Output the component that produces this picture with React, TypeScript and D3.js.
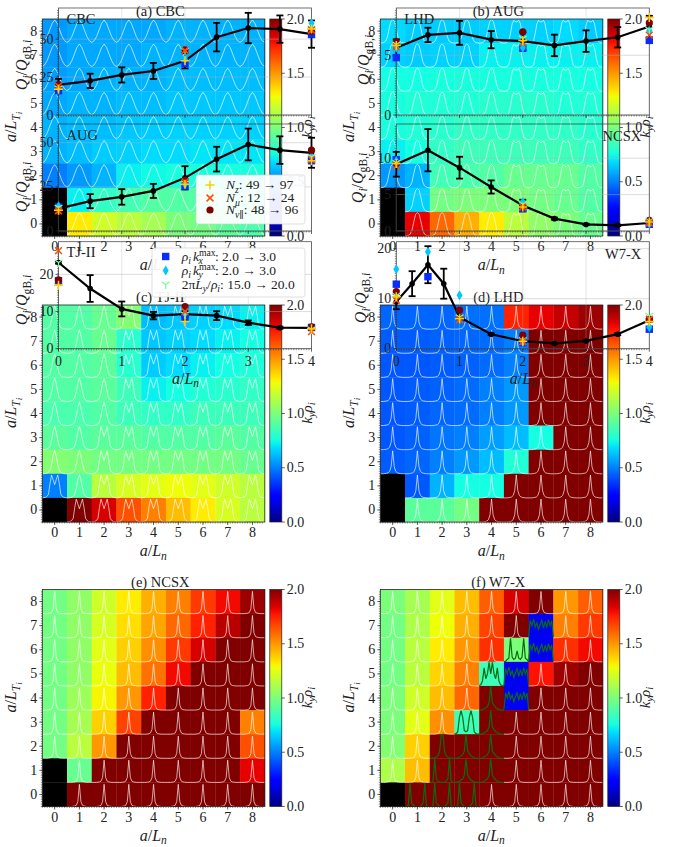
import * as d3 from "d3";

const serif = "'Liberation Serif', 'DejaVu Serif', serif";

const cellLabels = [0, 1, 2, 3, 4, 5, 6, 7, 8];
const cbarTicks = [0, 0.5, 1, 1.5, 2];
const fluxX = [0, 0.5, 1, 1.5, 2, 2.5, 3, 3.5, 4];
const fluxXW7 = [0, 0.25, 0.5, 0.75, 1, 1.5, 2, 2.5, 3, 3.5, 4];
const fluxXTicks = [0, 1, 2, 3, 4];

// heat maps, rows from a/LTi = 8 down to 0, null = no data
const heatCBC = [
  [0.55, 0.58, 0.58, 0.58, 0.58, 0.6, 0.6, 0.6, 0.6],
  [0.55, 0.58, 0.58, 0.58, 0.6, 0.6, 0.6, 0.6, 0.6],
  [0.56, 0.58, 0.6, 0.6, 0.6, 0.62, 0.62, 0.62, 0.62],
  [0.58, 0.6, 0.6, 0.62, 0.62, 0.64, 0.64, 0.64, 0.64],
  [0.6, 0.62, 0.62, 0.64, 0.65, 0.66, 0.66, 0.66, 0.66],
  [0.6, 0.62, 0.65, 0.66, 0.68, 0.68, 0.7, 0.7, 0.7],
  [0.5, 0.55, 0.6, 0.72, 0.74, 0.76, 0.76, 0.76, 0.76],
  [null, 0.72, 0.82, 0.86, 0.9, 0.9, 0.9, 0.9, 0.85],
  [null, 1.32, 1.2, 1.15, 1.1, 1.0, 0.98, 0.92, 0.88],
];
const heatAUG = [
  [0.68, 0.65, 0.65, 0.65, 0.66, 0.66, 0.66, 0.68, 0.65],
  [0.66, 0.65, 0.66, 0.66, 0.72, 0.72, 0.72, 0.72, 0.72],
  [0.75, 0.75, 0.76, 0.76, 0.76, 0.76, 0.76, 0.76, 0.75],
  [0.76, 0.78, 0.78, 0.78, 0.8, 0.8, 0.8, 0.78, 0.78],
  [0.76, 0.78, 0.8, 0.82, 0.82, 0.82, 0.82, 0.82, 0.8],
  [0.72, 0.75, 0.82, 0.85, 0.85, 0.85, 0.85, 0.85, 0.82],
  [0.55, 0.6, 0.86, 0.88, 0.9, 0.95, 0.95, 0.95, 0.9],
  [null, 0.66, 0.98, 1.0, 1.0, 1.0, 0.98, 0.95, 0.9],
  [null, 1.82, 1.6, 1.45, 1.32, 1.15, 1.05, 1.0, 0.95],
];
const heatTJ = [
  [0.9, 0.9, 0.95, 1.02, 0.62, 0.64, 0.66, 0.68, 0.72],
  [0.9, 0.9, 0.95, 0.8, 0.64, 0.66, 0.68, 0.72, 0.75],
  [0.9, 0.9, 0.92, 0.8, 0.65, 0.68, 0.72, 0.75, 0.78],
  [0.9, 0.9, 0.92, 0.85, 0.72, 0.75, 0.78, 0.8, 0.82],
  [0.88, 0.88, 0.9, 0.85, 0.82, 0.82, 0.85, 0.85, 0.85],
  [0.92, 0.9, 0.92, 0.92, 0.9, 0.9, 0.9, 0.92, 0.9],
  [1.02, 1.0, 0.98, 0.98, 0.98, 0.98, 0.98, 0.98, 0.95],
  [0.5, 0.9, 1.15, 1.22, 1.25, 1.28, 1.25, 1.2, 1.15],
  [null, 2.0, 1.85, 1.65, 1.55, 1.42, 1.32, 1.22, 1.15],
];
const heatLHD = [
  [0.45, 0.45, 0.45, 0.47, 0.47, 1.75, 1.82, 1.88, 1.95],
  [0.43, 0.43, 0.44, 0.45, 0.46, 0.5, 2, 2, 2],
  [0.42, 0.42, 0.43, 0.44, 0.46, 0.5, 2, 2, 2],
  [0.42, 0.43, 0.44, 0.46, 0.5, 0.55, 2, 2, 2],
  [0.42, 0.43, 0.45, 0.46, 0.5, 0.55, 2, 2, 2],
  [0.42, 0.44, 0.48, 0.5, 0.56, 0.62, 0.75, 2, 2],
  [0.43, 0.45, 0.5, 0.55, 0.62, 0.78, 2, 2, 2],
  [null, 0.42, 0.6, 0.75, 0.75, 2, 2, 2, 2],
  [null, 0.92, 0.92, 0.98, 2, 2, 2, 2, 2],
];
const heatNCSX = [
  [0.98, 1.05, 1.2, 1.32, 1.45, 1.55, 1.7, 1.8, 1.95],
  [0.98, 1.05, 1.22, 1.35, 1.47, 1.6, 1.75, 1.9, 2.0],
  [0.98, 1.05, 1.25, 1.38, 1.52, 1.7, 1.85, 2, 2],
  [0.98, 1.05, 1.27, 1.42, 1.58, 1.8, 2, 2, 2],
  [0.98, 1.08, 1.3, 1.5, 1.75, 2, 2, 2, 2],
  [0.98, 1.1, 1.38, 1.68, 2, 2, 2, 2, 1.55],
  [0.98, 1.15, 1.5, 2, 2, 2, 2, 2, 1.65],
  [null, 0.95, 2, 2, 2, 2, 2, 2, 1.82],
  [null, 2, 2, 2, 2, 2, 2, 2, 2],
];
const heatW7X = [
  [1.0, 1.1, 1.25, 1.42, 1.62, 1.85, 2, 1.5, 1.62],
  [0.98, 1.12, 1.28, 1.45, 1.68, 2, 0.2, 1.55, 1.7],
  [0.98, 1.15, 1.32, 1.5, 1.72, 1.0, 0.2, 1.72, 1.8],
  [0.98, 1.15, 1.37, 1.55, 0.85, 0.2, 1.78, 1.95, 2],
  [1.0, 1.2, 1.42, 1.6, 2, 0.2, 2, 2, 2],
  [1.0, 1.25, 1.52, 0.85, 2, 2, 2, 2, 2],
  [1.02, 1.38, 2, 2, 2, 2, 2, 2, 2],
  [1.12, 1.42, 2, 2, 2, 2, 2, 2, 2],
  [null, 2, 2, 2, 2, 2, 2, 2, 2],
];

// mode shapes drawn inside the cells, height as fraction of a cell
const shapeSine = [0.03, 0.1, 0.28, 0.55, 0.82, 0.96, 0.82, 0.55, 0.28, 0.1, 0.03];
const shapeBell = [0, 0.01, 0.03, 0.08, 0.25, 0.6, 0.9, 0.97, 0.9, 0.6, 0.25, 0.08, 0.03, 0.01, 0];
const shapeBellFlat = [0, 0.01, 0.03, 0.1, 0.4, 0.8, 0.95, 0.88, 0.88, 0.95, 0.8, 0.4, 0.1, 0.03, 0.01, 0];
const shapePeak = [0, 0, 0.01, 0.03, 0.06, 0.15, 0.4, 0.75, 0.97, 0.75, 0.4, 0.15, 0.06, 0.03, 0.01, 0, 0];
const shapeTwin = [0, 0.01, 0.02, 0.06, 0.15, 0.6, 0.95, 0.75, 0.55, 0.75, 0.95, 0.6, 0.15, 0.06, 0.02, 0.01, 0];
const shapeSpike = [0, 0, 0, 0.01, 0.02, 0.04, 0.1, 0.3, 0.95, 0.3, 0.1, 0.04, 0.02, 0.01, 0, 0, 0];
const shapeNarrow = [0, 0, 0, 0, 0.01, 0.02, 0.05, 0.2, 0.92, 0.2, 0.05, 0.02, 0.01, 0, 0, 0, 0];

const greenWavy = [0.02, 0.72, 0.5, 0.78, 0.45, 0.62, 0.35, 0.55, 0.72, 0.4, 0.68, 0.42, 0.75, 0.5, 0.7, 0.02];
const greenEdges = [0, 0, 0.05, 0.98, 0.15, 0.06, 0.01, 0, 0, 0.01, 0.06, 0.15, 0.98, 0.05, 0, 0];
const greenCentre = [0, 0, 0.01, 0.02, 0.05, 0.1, 0.3, 0.98, 1, 0.3, 0.1, 0.05, 0.02, 0.01, 0, 0];
const greenComb = [0, 0.02, 0.1, 0.15, 0.98, 0.2, 0.1, 0.15, 0.45, 0.15, 0.1, 0.2, 0.98, 0.15, 0.1, 0];
const greenTwinThick = [0, 0.02, 0.1, 0.7, 0.98, 0.7, 0.15, 0.1, 0.15, 0.7, 0.98, 0.7, 0.1, 0.02, 0, 0];
const greenTriple = [0.02, 0.05, 0.2, 0.75, 0.3, 0.5, 0.98, 0.5, 0.98, 0.5, 0.3, 0.75, 0.2, 0.05, 0.02, 0];
const greenBase = [0, 0, 0.02, 0.05, 0.1, 0.15, 0.3, 0.98, 0.3, 0.2, 0.1, 0.06, 0.02, 0, 0, 0];

// [a/Ln, a/LTi, shape] for the green curves in W7-X
const greenCells: [number, number, number[]][] = [
  [1, 0, greenEdges], [2, 0, greenEdges], [3, 0, greenEdges],
  [2, 1, greenEdges], [3, 1, greenBase], [4, 1, greenBase],
  [2, 2, greenCentre], [3, 2, greenBase], [4, 2, greenBase],
  [3, 3, greenTwinThick], [4, 3, greenBase],
  [4, 4, greenBase], [5, 4, greenWavy],
  [4, 5, greenTriple], [5, 5, greenWavy],
  [5, 6, greenComb], [6, 6, greenWavy],
  [6, 7, greenWavy],
];

// ion heat flux against a/Ln
const qCBC = [19.8, 22.5, 26.4, 29, 35.7, 51.3, 57.3, 56.6, 53.3];
const errCBC = [4, 4.7, 5, 5.3, 5, 9.4, 10, 9, 9];
const qAUG = [12.7, 16.9, 19.3, 22.7, 30.1, 40.7, 49, 45.8, 44.3];
const errAUG = [3, 4, 4.4, 4, 6.6, 7, 9, 7.8, 8.5];
const qTJ = [23.2, 16.2, 10.7, 8.9, 9.3, 8.9, 7, 5.65, 5.6];
const errTJ = [0.3, 3.6, 2, 1, 0.8, 1.2, 0.6, 0.3, 0.3];
const qLHD = [5.63, 6.7, 6.87, 6.3, 6.18, 5.82, 6.18, 6.5, 7.4];
const errLHD = [0.7, 0.6, 1, 0.72, 0.75, 0.9, 0.9, 0.85, 0.9];
const qNCSX = [9.17, 11.1, 8.7, 6.05, 3.5, 1.7, 0.9, 0.78, 1.1];
const errNCSX = [1.7, 2.9, 1.5, 0.9, 0.8, 0.15, 0.1, 0.1, 0.15];
const qW7X = [9.4, 13, 16.8, 13, 6.3, 2.9, 1.5, 1.05, 1.55, 2.9, 5.7];
const errW7X = [1.5, 2.5, 3.7, 3, 0.3, 0.2, 0.2, 0.1, 0.1, 0.2, 0.3];

// resolution scans, aligned with the x list of each panel
const scanX = [0, 2, 4];
const scanCBC = {
  kx: [16, 34, 53], ky: [18, 36.8, 60.5], ly: [17.6, 42.5, 57],
  nv: [20, 43, 55], nmu: [19, 42.5, 56], nz: [17, 35.7, 56.6],
};
const scanAUG = {
  kx: [13.6, 25.4, 39.8], ky: [14, 26.5, 42.4], ly: [13.3, 27, 42],
  nv: [11.2, 28.8, 45.8], nmu: [11.4, 27.8, 40.5], nz: [11.7, 26.5, 39.8],
};
const scanTJ = {
  kx: [18.3, 8.4, 5.7], ky: [18.3, 9.5, 5.7], ly: [23.2, 9.2, 5.2],
  nv: [18.5, 11.3, 5.9], nmu: [26.4, 10, 4.6], nz: [17.1, 7.3, 5.4],
};
const scanLHD = {
  kx: [4.8, 5.58, 6.24], ky: [5.63, 5.63, 7.06], ly: [5.9, 6.4, 7.14],
  nv: [6.13, 6.95, 7.7], nmu: [5.7, 6.04, 6.68], nz: [5.82, 6.23, 8.16],
};
const scanNCSX = {
  kx: [9.8, 3.07, 0.92], ky: [9.6, 4, 1], ly: [9.36, 3.67, 1.38],
  nv: [9.27, 3.3, 1.47], nmu: [8.95, 3.3, 1.1], nz: [9.27, 3.3, 1.24],
};
const scanXW7 = [0, 0.5, 1, 2, 4];
const scanW7X = {
  kx: [12.9, 14.4, null, 1.2, 3.9], ky: [15.9, 19.4, 10.7, 1.4, 4.3], ly: [10.6, null, 6.3, 1.7, 6.6],
  nv: [11.4, null, 7.7, 2.7, 5.9], nmu: [9.7, null, 5.8, 1.4, 5.9], nz: [10.4, null, 6, 1.5, 5.4],
};

const markerColors: Record<string, string> = {
  kx: "#0a2cff", ky: "#00c8ff", ly: "#7dffa0", nv: "#800000", nmu: "#ff4a00", nz: "#ffcf00",
};

// matplotlib jet
const jetR = d3.scaleLinear([0, 0.35, 0.66, 0.89, 1], [0, 0, 1, 1, 0.5]);
const jetG = d3.scaleLinear([0, 0.125, 0.375, 0.64, 0.91, 1], [0, 0, 1, 1, 0, 0]);
const jetB = d3.scaleLinear([0, 0.11, 0.34, 0.65, 1], [0.5, 1, 1, 0, 0]);
const jet = (t: number) => d3.rgb(jetR(t) * 255, jetG(t) * 255, jetB(t) * 255).formatHex();

type Seg = [string, string, number?];

function MathText({ segs, ...rest }: { segs: Seg[] } & any) {
  let level = 0;
  return (
    <text fontFamily={serif} fill="#222" {...rest}>
      {segs.map(([s, kind, dx], i) => {
        const next = kind === "subsub" ? 1.6 : kind.startsWith("sub") ? 1 : kind.startsWith("sup") ? -1.4 : 0;
        const dy = (next - level) * 3.5;
        level = next;
        const italic = kind === "i" || kind === "subi" || kind === "subsub";
        const size = kind === "subsub" ? "0.55em" : next !== 0 ? "0.72em" : "1em";
        return <tspan key={i} dy={dy} dx={dx} fontStyle={italic ? "italic" : "normal"} fontSize={size}>{s}</tspan>;
      })}
    </text>
  );
}

const xLabelSegs: Seg[] = [["a", "i"], ["/", "n"], ["L", "i"], ["n", "subi"]];
const yLabelSegs: Seg[] = [["a", "i"], ["/", "n"], ["L", "i"], ["T", "subi"], ["i", "subsub"]];
const cbarLabelSegs: Seg[] = [["k", "i"], ["y", "subi"], ["ρ", "i"], ["i", "subi"]];
const qLabelSegs: Seg[] = [["Q", "i"], ["i", "subi"], ["/", "n"], ["Q", "i"], ["gB,", "sub"], ["i", "subi"]];

const HEAT_W = 222.5;
const HEAT_H = 217;
const TICK_FONT = 14;
const LABEL_FONT = 16;

function HeatPanel({ title, x0, y0, data, shape, greens }: {
  title: string; x0: number; y0: number; data: (number | null)[][];
  shape: (col: number, row: number) => number[]; greens?: [number, number, number[]][];
}) {
  const x = d3.scaleLinear([-0.5, 8.5], [x0, x0 + HEAT_W]);
  const y = d3.scaleLinear([-0.5, 8.5], [y0 + HEAT_H, y0]);
  const cbarY = d3.scaleLinear([0, 2], [y0 + HEAT_H, y0]);
  const gradId = "jet-" + x0 + "-" + y0;
  const curve = (col: number, row: number, pts: number[]) => {
    const t = d3.scaleLinear([0, pts.length - 1], [col - 0.5, col + 0.5]);
    return d3.line<number>().x((_, i) => x(t(i))).y((v) => y(row - 0.5 + v))(pts) ?? "";
  };
  const isGreen = (c: number, r: number) => greens?.some((g) => g[0] === c && g[1] === r);
  const cbx = x0 + HEAT_W + 5;
  const minor = d3.range(-0.5, 8.5, 0.1);
  return (
    <g>
      <text x={x0 + 118} y={y0 - 3} textAnchor="middle" fontFamily={serif} fontSize={14.5} fill="#222">{title}</text>
      {data.map((vals, ri) =>
        vals.map((v, col) => {
          const row = 8 - ri;
          return (
            <rect key={col + "-" + row} x={x(col - 0.5)} y={y(row + 0.5)} width={x(1) - x(0) + 0.3}
              height={y(0) - y(1) + 0.3} fill={v === null ? "#000" : jet(v / 2)} />
          );
        })
      )}
      {data.map((vals, ri) =>
        vals.map((v, col) => {
          const row = 8 - ri;
          if (v === null || isGreen(col, row)) return null;
          return <path key={col + "-" + row} d={curve(col, row, shape(col, row))} fill="none" stroke="#fff" strokeOpacity={0.72} strokeWidth={0.9} />;
        })
      )}
      {greens?.map((g) => (
        <path key={g[0] + "_" + g[1]} d={curve(g[0], g[1], g[2])} fill="none" stroke="#0a6a12" strokeWidth={1.2} />
      ))}
      <rect x={x0} y={y0} width={HEAT_W} height={HEAT_H} fill="none" stroke="#222" strokeWidth={0.8} />
      {minor.map((m) => (
        <g key={m} stroke="#222" strokeWidth={0.5}>
          <line x1={x(m)} x2={x(m)} y1={y0 + HEAT_H} y2={y0 + HEAT_H + 1.5} />
          <line y1={y(m)} y2={y(m)} x1={x0} x2={x0 - 1.5} />
        </g>
      ))}
      {cellLabels.map((c) => (
        <g key={c} fontFamily={serif} fontSize={TICK_FONT} fill="#222">
          <line x1={x(c)} x2={x(c)} y1={y0 + HEAT_H} y2={y0 + HEAT_H + 3} stroke="#222" strokeWidth={0.7} />
          <text x={x(c)} y={y0 + HEAT_H + 15} textAnchor="middle">{c}</text>
          <line y1={y(c)} y2={y(c)} x1={x0} x2={x0 - 3} stroke="#222" strokeWidth={0.7} />
          <text x={x0 - 5} y={y(c) + 4.5} textAnchor="end">{c}</text>
        </g>
      ))}
      <MathText segs={xLabelSegs} x={x0 + 111} y={y0 + HEAT_H + 34} fontSize={LABEL_FONT} textAnchor="middle" />
      <MathText segs={yLabelSegs} fontSize={LABEL_FONT} textAnchor="middle"
        transform={`translate(${x0 - 26},${y0 + 108}) rotate(-90)`} />
      <defs>
        <linearGradient id={gradId} x1="0" x2="0" y1="1" y2="0">
          {d3.range(0, 1.001, 0.02).map((t) => <stop key={t} offset={t} stopColor={jet(t)} />)}
        </linearGradient>
      </defs>
      <rect x={cbx} y={y0} width={12} height={HEAT_H} fill={`url(#${gradId})`} stroke="#222" strokeWidth={0.7} />
      {cbarTicks.map((t) => (
        <g key={t}>
          <line x1={cbx + 12} x2={cbx + 15} y1={cbarY(t)} y2={cbarY(t)} stroke="#222" strokeWidth={0.7} />
          <text x={cbx + 17} y={cbarY(t) + 4.5} fontFamily={serif} fontSize={TICK_FONT} fill="#222">{t.toFixed(1)}</text>
        </g>
      ))}
      <MathText segs={cbarLabelSegs} fontSize={LABEL_FONT - 1} textAnchor="middle"
        transform={`translate(${cbx + 42},${y0 + 108}) rotate(-90)`} />
    </g>
  );
}

function ScanMarker({ kind, x, y }: { kind: string; x: number; y: number }) {
  const c = markerColors[kind];
  if (kind === "kx") return <rect x={x - 3.7} y={y - 3.7} width={7.4} height={7.4} fill={c} />;
  if (kind === "ky") return <path d={`M${x},${y - 5}L${x + 3},${y}L${x},${y + 5}L${x - 3},${y}Z`} fill={c} />;
  if (kind === "nv") return <circle cx={x} cy={y} r={3.6} fill={c} />;
  if (kind === "nz") return <path d={`M${x - 4.5},${y}H${x + 4.5}M${x},${y - 4.5}V${y + 4.5}`} stroke={c} strokeWidth={1.5} fill="none" />;
  if (kind === "nmu") return <path d={`M${x - 3.4},${y - 3.4}L${x + 3.4},${y + 3.4}M${x - 3.4},${y + 3.4}L${x + 3.4},${y - 3.4}`} stroke={c} strokeWidth={1.5} fill="none" />;
  return <path d={`M${x},${y}V${y + 4.5}M${x},${y}L${x - 3.9},${y - 2.6}M${x},${y}L${x + 3.9},${y - 2.6}`} stroke={c} strokeWidth={1.3} fill="none" />;
}

const scanOrder = ["kx", "ky", "nv", "ly", "nmu", "nz"];

function FluxPanel({ x0, y0, h, yMax, yTicks, xs = fluxX, q, err, scanXs, scan, name, nameRight, showX, labelX, labelY }: any) {
  const W = 253;
  const x = d3.scaleLinear([0, 4], [x0, x0 + W]);
  const y = d3.scaleLinear([0, yMax], [y0 + h, y0]);
  const path = d3.line<number>().x((_, i) => x(xs[i])).y((v) => y(v))(q) ?? "";
  return (
    <g>
      {yTicks.map((t: number) => (
        <line key={t} x1={x0} x2={x0 + W} y1={y(t)} y2={y(t)} stroke="#b0b0b0" strokeOpacity={0.55} strokeWidth={0.8} />
      ))}
      {fluxXTicks.map((t) => (
        <line key={t} x1={x(t)} x2={x(t)} y1={y0} y2={y0 + h} stroke="#b0b0b0" strokeOpacity={0.4} strokeWidth={0.8} />
      ))}
      <rect x={x0} y={y0} width={W} height={h} fill="none" stroke="#333" strokeOpacity={0.85} strokeWidth={0.8} />
      {d3.range(0, yMax, yMax / 44).map((m) => (
        <line key={m} x1={x0} x2={x0 - 1.5} y1={y(m)} y2={y(m)} stroke="#222" strokeWidth={0.5} />
      ))}
      {d3.range(0, 4, 0.04).map((m) => (
        <line key={m} x1={x(m)} x2={x(m)} y1={y0 + h} y2={y0 + h + 1.5} stroke="#222" strokeWidth={0.5} />
      ))}
      {yTicks.map((t: number) => (
        <g key={t}>
          <line x1={x0} x2={x0 - 3} y1={y(t)} y2={y(t)} stroke="#222" strokeWidth={0.7} />
          <text x={x0 - 5} y={y(t) + 4.5} textAnchor="end" fontFamily={serif} fontSize={TICK_FONT} fill="#222">{t}</text>
        </g>
      ))}
      {fluxXTicks.map((t) => (
        <g key={t}>
          <line x1={x(t)} x2={x(t)} y1={y0 + h} y2={y0 + h + 3} stroke="#222" strokeWidth={0.7} />
          {showX && <text x={x(t)} y={y0 + h + 17} textAnchor="middle" fontFamily={serif} fontSize={TICK_FONT} fill="#222">{t}</text>}
        </g>
      ))}
      {showX && <MathText segs={xLabelSegs} x={x0 + 127} y={y0 + h + 35} fontSize={LABEL_FONT} textAnchor="middle" />}
      <MathText segs={qLabelSegs} fontSize={LABEL_FONT} textAnchor="middle"
        transform={`translate(${labelX},${labelY ?? y0 + h / 2 + 5}) rotate(-90)`} />
      {nameRight
        ? <text x={x0 + W - 8} y={y0 + 17} textAnchor="end" fontFamily={serif} fontSize={14.5} fill="#222">{name}</text>
        : <text x={x0 + 8} y={y0 + 15.5} fontFamily={serif} fontSize={14.5} fill="#222">{name}</text>}
      <path d={path} fill="none" stroke="#000" strokeWidth={2.2} />
      {q.map((v: number, i: number) => (
        <g key={i} stroke="#000" strokeWidth={1.8}>
          <line x1={x(xs[i])} x2={x(xs[i])} y1={y(v - err[i])} y2={y(v + err[i])} />
          <line x1={x(xs[i]) - 3.5} x2={x(xs[i]) + 3.5} y1={y(v - err[i])} y2={y(v - err[i])} />
          <line x1={x(xs[i]) - 3.5} x2={x(xs[i]) + 3.5} y1={y(v + err[i])} y2={y(v + err[i])} />
          <circle cx={x(xs[i])} cy={y(v)} r={2.8} fill="#000" stroke="none" />
        </g>
      ))}
      {scanOrder.map((k) =>
        scanXs.map((sx: number, i: number) =>
          scan[k][i] === null ? null : <ScanMarker key={k + i} kind={k} x={x(sx)} y={y(scan[k][i])} />
        )
      )}
    </g>
  );
}

function Legend({ x, y, w, h, rows, markerX, textX }: any) {
  return (
    <g>
      <rect x={x} y={y} width={w} height={h} rx={2.5} fill="#fff" fillOpacity={0.93} stroke="#ccc" strokeOpacity={0.8} strokeWidth={0.8} />
      {rows.map((r: any, i: number) => (
        <g key={i}>
          <ScanMarker kind={r.kind} x={markerX} y={r.y} />
          <MathText segs={r.segs} x={textX} y={r.y + 4} fontSize={13.5} />
        </g>
      ))}
    </g>
  );
}

const legendOne = [
  { kind: "nz", y: 185, segs: [["N", "i"], ["z", "subi"], [": 49 → 97", "n"]] as Seg[] },
  { kind: "nmu", y: 198, segs: [["N", "i"], ["μ", "subi"], [": 12 → 24", "n"]] as Seg[] },
  { kind: "nv", y: 210, segs: [["N", "i"], ["v∥", "subi"], [": 48 → 96", "n"]] as Seg[] },
];
const legendTwo = [
  { kind: "kx", y: 256.5, segs: [["ρ", "i"], ["i", "subi"], ["k", "i", 2], ["max", "sup"], ["x", "subi", -17], [": 2.0 → 3.0", "n", 12]] as Seg[] },
  { kind: "ky", y: 270.5, segs: [["ρ", "i"], ["i", "subi"], ["k", "i", 2], ["max", "sup"], ["y", "subi", -17], [": 2.0 → 3.0", "n", 12]] as Seg[] },
  { kind: "ly", y: 284.5, segs: [["2π", "n"], ["L", "i"], ["y", "subi"], ["/", "n"], ["ρ", "i"], ["i", "subi"], [": 15.0 → 20.0", "n"]] as Seg[] },
];

const shapeCBC = () => shapeSine;
const shapeAUG = (c: number) => (c > 4 ? shapeBellFlat : shapeBell);
const shapeTJ = (c: number, r: number) =>
  c >= 3 || (c === 2 && r <= 3) || (c === 0 && r === 1) || (c === 1 && r === 0) ? shapeTwin : shapePeak;
const shapeLHD = () => shapeSpike;
const shapeThin = () => shapeNarrow;

const LX = 42.3;
const RX = 380.3;
const FX_L = 58.5;
const FX_R = 396.3;

export default function App() {
  return (
    <svg width={677} height={847} style={{ position: "absolute", left: 0, top: 0, background: "#fff" }}>
      <HeatPanel title="(a) CBC" x0={LX} y0={19} data={heatCBC} shape={shapeCBC} />
      <HeatPanel title="(b) AUG" x0={RX} y0={19} data={heatAUG} shape={shapeAUG} />
      <HeatPanel title="(c) TJ-II" x0={LX} y0={305} data={heatTJ} shape={shapeTJ} />
      <HeatPanel title="(d) LHD" x0={RX} y0={305} data={heatLHD} shape={shapeLHD} />
      <HeatPanel title="(e) NCSX" x0={LX} y0={589.5} data={heatNCSX} shape={shapeThin} />
      <HeatPanel title="(f) W7-X" x0={RX} y0={589.5} data={heatW7X} shape={shapeThin} greens={greenCells} />

      <FluxPanel x0={FX_L} y0={8} h={107} yMax={70.5} yTicks={[0, 25, 50]} q={qCBC} err={errCBC} scanXs={scanX} scan={scanCBC} name="CBC" labelX={27} labelY={65} />
      <FluxPanel x0={FX_L} y0={124} h={107} yMax={60.6} yTicks={[0, 25, 50]} q={qAUG} err={errAUG} scanXs={scanX} scan={scanAUG} name="AUG" labelX={27} labelY={187} />
      <Legend x={196} y={175} w={109} h={49} rows={legendOne} markerX={210} textX={226} />
      <FluxPanel x0={FX_L} y0={241.7} h={107} yMax={28.8} yTicks={[0, 10, 20]} q={qTJ} err={errTJ} scanXs={scanX} scan={scanTJ} name="TJ-II" showX labelX={27} labelY={300} />
      <Legend x={152} y={248} w={153} h={49} rows={legendTwo} markerX={165.7} textX={181.7} />

      <FluxPanel x0={FX_R} y0={8} h={107} yMax={8.95} yTicks={[0, 5]} q={qLHD} err={errLHD} scanXs={scanX} scan={scanLHD} name="LHD" labelX={369} labelY={60} />
      <FluxPanel x0={FX_R} y0={124} h={107} yMax={14.7} yTicks={[0, 5, 10]} q={qNCSX} err={errNCSX} scanXs={scanX} scan={scanNCSX} name="NCSX" nameRight labelX={363} labelY={178} />
      <FluxPanel x0={FX_R} y0={241.7} h={107} yMax={21.4} yTicks={[0, 10, 20]} xs={fluxXW7} q={qW7X} err={errW7X} scanXs={scanXW7} scan={scanW7X} name="W7-X" nameRight showX labelX={366} labelY={298} />
    </svg>
  );
}
